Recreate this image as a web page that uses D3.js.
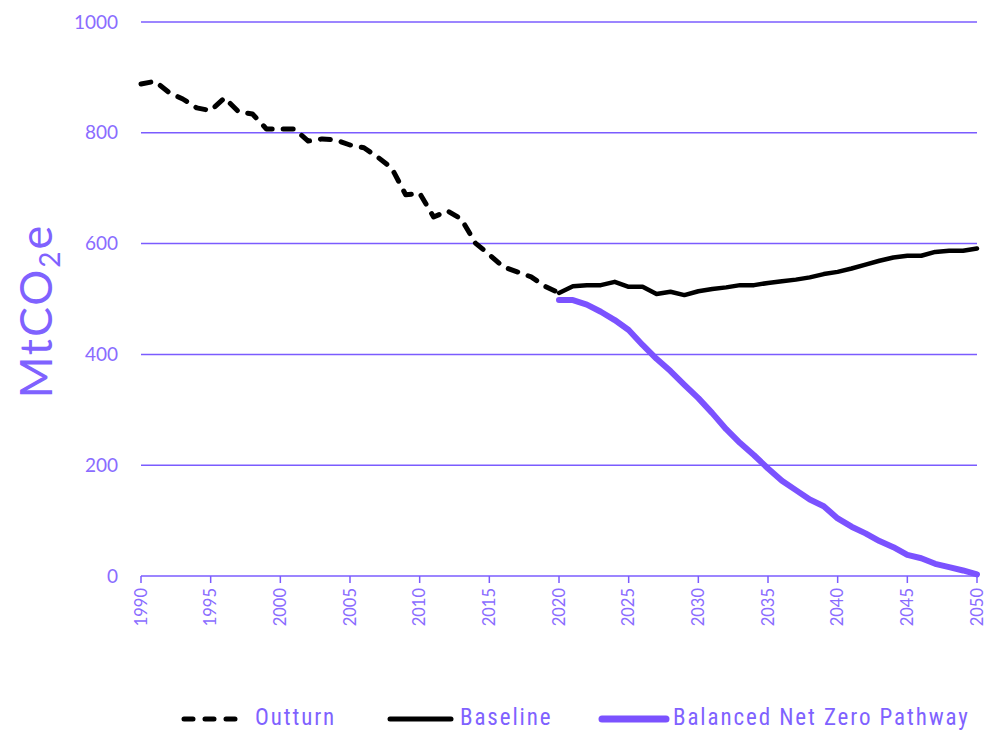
<!DOCTYPE html>
<html lang="en">
<head>
    <meta charset="UTF-8">
    <title>Emissions pathway</title>
    <script src="https://d3js.org/d3.v7.min.js"></script>
    <style>
        body { margin: 0; background: #fff; }
        svg { display: block; }
        .tick-y { font-family: "Lato", "Noto Sans", sans-serif; font-size: 19px; fill: #8a6cff; }
        .tick-x { font-family: "Lato", "Noto Sans", sans-serif; font-size: 16.5px; fill: #8a6cff; }
        .legend text { font-family: "Liberation Sans Narrow", "Roboto Condensed", "Liberation Sans", sans-serif; font-size: 23px; letter-spacing: 1.9px; fill: #7f62ff; }
    </style>
</head>
<body>
<svg id="chart" width="1003" height="731"></svg>
<script>
    // outturn 1990-2020
    const outturnYears = d3.range(1990, 2021);
    const outturn = [888, 893, 873, 861, 845, 840, 863, 838, 834, 807,
                     807, 807, 785, 789, 787, 778, 773, 756, 736, 688,
                     691, 648, 659, 644, 601, 580, 558, 549, 540, 523, 511];

    // baseline 2020-2050
    const projYears = d3.range(2020, 2051);
    const baseline = [511, 523, 525, 525, 531, 522, 522, 509, 513, 507,
                      514, 518, 521, 525, 525, 529, 532, 535, 539, 545,
                      549, 555, 562, 569, 575, 578, 578, 585, 587, 587, 591];

    // balanced net zero pathway 2020-2050
    const pathway = [498, 498, 490, 477, 462, 444, 417, 392, 370, 345,
                     321, 294, 265, 240, 218, 194, 172, 155, 138, 126,
                     104, 89, 77, 63, 52, 38, 32, 22, 16, 10, 3];

    const yTicks = [0, 200, 400, 600, 800, 1000];
    const xTicks = d3.range(1990, 2051, 5);

    const purple = '#7b5cff';
    const svg = d3.select('#chart');

    const x = d3.scaleLinear().domain([1990, 2050]).range([141, 977]);
    const y = d3.scaleLinear().domain([0, 1000]).range([576, 22]);

    // gridlines
    svg.append('g')
        .selectAll('line')
        .data(yTicks)
        .join('line')
        .attr('x1', x(1990))
        .attr('x2', x(2050))
        .attr('y1', d => y(d))
        .attr('y2', d => y(d))
        .attr('stroke', purple)
        .attr('stroke-width', 1.5);

    // y tick labels
    svg.append('g')
        .selectAll('text')
        .data(yTicks)
        .join('text')
        .attr('class', 'tick-y')
        .attr('x', 118)
        .attr('y', d => y(d))
        .attr('dy', '0.35em')
        .attr('text-anchor', 'end')
        .text(d => d);

    // x axis ticks
    const xAxis = svg.append('g').attr('transform', `translate(0,${y(0)})`);
    xAxis.selectAll('line')
        .data(xTicks)
        .join('line')
        .attr('x1', d => x(d))
        .attr('x2', d => x(d))
        .attr('y1', 0)
        .attr('y2', 7)
        .attr('stroke', purple)
        .attr('stroke-width', 1.5);
    xAxis.selectAll('text')
        .data(xTicks)
        .join('text')
        .attr('class', 'tick-x')
        .attr('transform', d => `translate(${x(d)},12) rotate(-90)`)
        .attr('dy', '0.35em')
        .attr('text-anchor', 'end')
        .text(d => d);

    // y title with subscript
    const title = svg.append('text')
        .attr('transform', 'translate(52,311) rotate(-90)')
        .attr('text-anchor', 'middle')
        .style('font-family', '"Lato", "Noto Sans", sans-serif')
        .style('font-size', '45px')
        .style('letter-spacing', '2px')
        .attr('fill', '#7f62ff');
    title.append('tspan').text('MtCO');
    title.append('tspan').attr('dy', 8).style('font-size', '28px').text('2');
    title.append('tspan').attr('dy', -8).text('e');

    const line = d3.line().x(d => x(d[0])).y(d => y(d[1]));

    // pathway
    svg.append('path')
        .datum(projYears.map((yr, i) => [yr, pathway[i]]))
        .attr('d', line)
        .attr('fill', 'none')
        .attr('stroke', '#7b52ff')
        .attr('stroke-width', 6)
        .attr('stroke-linejoin', 'round')
        .attr('stroke-linecap', 'round');

    // baseline
    svg.append('path')
        .datum(projYears.map((yr, i) => [yr, baseline[i]]))
        .attr('d', line)
        .attr('fill', 'none')
        .attr('stroke', '#000')
        .attr('stroke-width', 4.5)
        .attr('stroke-linejoin', 'round')
        .attr('stroke-linecap', 'round');

    // outturn dashed
    svg.append('path')
        .datum(outturnYears.map((yr, i) => [yr, outturn[i]]))
        .attr('d', line)
        .attr('fill', 'none')
        .attr('stroke', '#000')
        .attr('stroke-width', 5)
        .attr('stroke-dasharray', '10,11')
        .attr('stroke-linejoin', 'round')
        .attr('stroke-linecap', 'round');

    // legend
    const legendItems = [
        { label: 'Outturn', x1: 184, x2: 240, tx: 255, color: '#000', width: 5, dash: '9,12' },
        { label: 'Baseline', x1: 390, x2: 451, tx: 460, color: '#000', width: 5, dash: null },
        { label: 'Balanced Net Zero Pathway', x1: 602, x2: 666, tx: 673, color: '#7b52ff', width: 7, dash: null }
    ];
    const legend = svg.append('g').attr('class', 'legend');
    legendItems.forEach(item => {
        legend.append('line')
            .attr('x1', item.x1)
            .attr('x2', item.x2)
            .attr('y1', 719)
            .attr('y2', 719)
            .attr('stroke', item.color)
            .attr('stroke-width', item.width)
            .attr('stroke-linecap', 'round')
            .attr('stroke-dasharray', item.dash);
        legend.append('text')
            .attr('x', item.tx)
            .attr('y', 717)
            .attr('dy', '0.35em')
            .text(item.label);
    });
</script>
</body>
</html>
